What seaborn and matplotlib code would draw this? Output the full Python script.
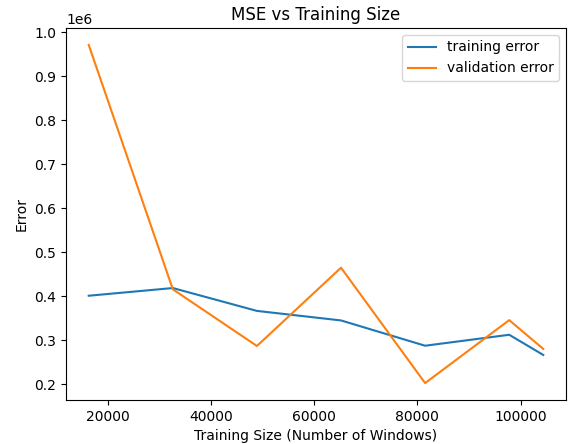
import numpy as np
import pandas as pd
import matplotlib
matplotlib.use("Agg")
import matplotlib.pyplot as plt
import seaborn as sns

train_sizes = [16300, 32600, 48900, 65200, 81500, 97800, 104400]
training_error = [401000, 418500, 366500, 344800, 287300, 312200, 266300]
validation_error = [971500, 415600, 286700, 464700, 202300, 345500, 280000]

df = pd.DataFrame({
    "size": train_sizes * 2,
    "error": training_error + validation_error,
    "series": ["training error"] * len(train_sizes) + ["validation error"] * len(train_sizes),
})

fig = plt.figure(figsize=(5.7, 4.44), dpi=100)
ax = fig.add_axes([66 / 570, 44 / 444, 500 / 570, 372 / 444])
sns.lineplot(data=df, x="size", y="error", hue="series",
             palette=["#1f77b4", "#ff7f0e"], ax=ax, linewidth=1.5)
ax.set_title("MSE vs Training Size")
ax.set_xlabel("Training Size (Number of Windows)")
ax.set_ylabel("Error")
ax.legend(title=None, loc="upper right")
fig.savefig("out.png", dpi=100)
